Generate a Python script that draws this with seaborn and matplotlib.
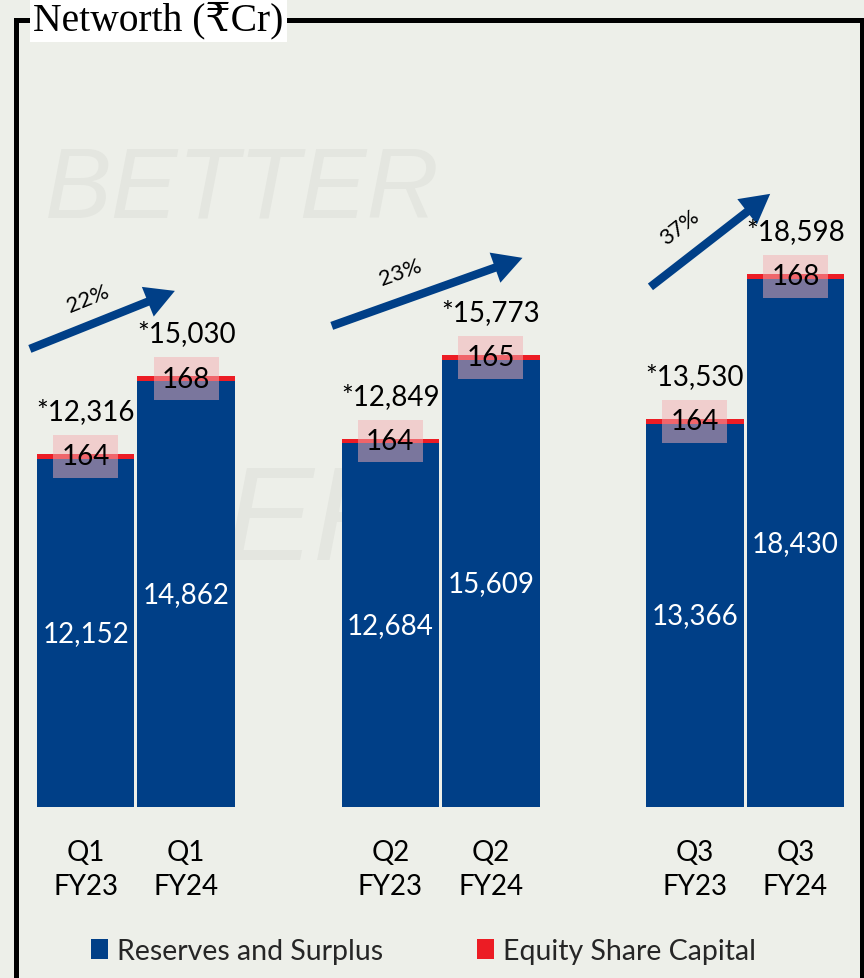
import matplotlib
matplotlib.use("Agg")
import matplotlib.pyplot as plt
import pandas as pd
import seaborn as sns
from matplotlib.patches import Patch, Rectangle

# ---------------- data ----------------
quarters = ["Q1", "Q2", "Q3"]
years = ["FY23", "FY24"]
reserves_fy23 = [12152, 12684, 13366]
reserves_fy24 = [14862, 15609, 18430]
equity_fy23 = [164, 164, 164]
equity_fy24 = [168, 165, 168]
networth_fy23 = [12316, 12849, 13530]
networth_fy24 = [15030, 15773, 18598]
growth_labels = ["22%", "23%", "37%"]
series_names = ["Reserves and Surplus", "Equity Share Capital"]
title = "Networth (₹Cr)"

# ---------------- styles ----------------
BG = "#EDEFE9"
BLUE = "#003F87"
RED = "#EC1C24"
WM = "#E4E6E0"
# arrow annotations (tail, tip) relative to group index, and growth label spots
arrow_geom = [((-0.348, 15980), (0.128, 18004)),
              ((-0.357, 16783), (0.269, 19156)),
              ((-0.311, 18144), (0.082, 21389))]
growth_pos = [(-0.157, 17750, 22), (-0.131, 18650, 20), (-0.215, 20250, 38)]

df = pd.DataFrame({
    "quarter": quarters * 2,
    "year": [years[0]] * 3 + [years[1]] * 3,
    "reserves": reserves_fy23 + reserves_fy24,
    "equity": equity_fy23 + equity_fy24,
    "networth": networth_fy23 + networth_fy24,
})
df["stack_top"] = df["reserves"] + df["equity"]

sns.set_theme(style="white")
plt.rcParams["font.family"] = ["Lato", "DejaVu Sans"]

W, H = 864, 979
fig = plt.figure(figsize=(W / 100, H / 100), dpi=100, facecolor=BG)

# faint watermark
fig.text(45 / W, 1 - 192 / H, "BETTER", fontsize=72, style="italic", color=WM,
         va="center", ha="left", zorder=-2, family=["Liberation Sans", "DejaVu Sans"])
fig.text(225 / W, 1 - 525 / H, "ER", fontsize=96, style="italic", color=WM,
         va="center", ha="left", zorder=-2, family=["Liberation Sans", "DejaVu Sans"])

ax = fig.add_axes([0, 171 / H, 1, 774 / H])
ax.set_facecolor("none")

sns.barplot(data=df, x="quarter", y="stack_top", hue="year", hue_order=years,
            order=quarters, palette=[RED, RED], width=0.66, gap=0.03,
            saturation=1, errorbar=None, linewidth=0, legend=False, ax=ax)
sns.barplot(data=df, x="quarter", y="reserves", hue="year", hue_order=years,
            order=quarters, palette=[BLUE, BLUE], width=0.66, gap=0.03,
            saturation=1, errorbar=None, linewidth=0, legend=False, ax=ax)

top_conts = ax.containers[:2]
res_conts = ax.containers[2:4]

centers, ticklabels = [], []
for yi, (tc, rc) in enumerate(zip(top_conts, res_conts)):
    eqs = equity_fy23 if yi == 0 else equity_fy24
    nws = networth_fy23 if yi == 0 else networth_fy24
    ress = reserves_fy23 if yi == 0 else reserves_fy24
    for qi, (tb, rb) in enumerate(zip(tc.patches, rc.patches)):
        x = tb.get_x() + tb.get_width() / 2
        centers.append(x)
        ticklabels.append(f"{quarters[qi]}\n{years[yi]}")
        # reserves label
        ax.text(x, rb.get_height() / 2, f"{ress[qi]:,}", color="white",
                fontsize=20, ha="center", va="center", zorder=5)
        # equity label with translucent pink box
        ax.text(x, rb.get_height() + (tb.get_height() - rb.get_height()) / 2,
                f"{eqs[qi]}", color="black", fontsize=20, ha="center", va="center",
                zorder=6,
                bbox=dict(boxstyle="square,pad=0.3", facecolor="#F4AEB3",
                          edgecolor="none", alpha=0.5))
        # total networth label
        ax.annotate(f"*{nws[qi]:,}", xy=(x, tb.get_height()), xytext=(0, 31),
                    textcoords="offset points", ha="center", va="center",
                    fontsize=20, color="black", zorder=6)

order = sorted(range(len(centers)), key=lambda i: centers[i])
ax.set_xticks([centers[i] for i in order])
ax.set_xticklabels([ticklabels[i] for i in order], fontsize=20, linespacing=1.4)
ax.tick_params(axis="x", length=0, pad=23, colors="black")
ax.set_yticks([])
ax.set_xlabel("")
ax.set_ylabel("")
ax.set_xlim(-0.446, 2.390)
ax.set_ylim(0, 27000)
sns.despine(ax=ax, left=True, bottom=True)

# growth arrows
for gi, ((tx, ty), (hx, hy)) in enumerate(arrow_geom):
    ax.annotate("", xy=(gi + hx, hy), xytext=(gi + tx, ty),
                arrowprops=dict(arrowstyle="simple,head_width=1.15,head_length=1.05,tail_width=0.3",
                                mutation_scale=20, color=BLUE, lw=0,
                                shrinkA=0, shrinkB=0), zorder=4)
    px, py, rot = growth_pos[gi]
    ax.text(gi + px, py, growth_labels[gi], fontsize=16, rotation=rot,
            rotation_mode="anchor", ha="center", va="center", color="black")

# frame
fig.add_artist(Rectangle((15.5 / W, -0.05), (861.5 - 15.5) / W, 1 - 20.5 / H + 0.05,
                         transform=fig.transFigure, fill=False, edgecolor="black",
                         linewidth=3.6, clip_on=False, zorder=3))
fig.text(33 / W, 1 - 21 / H, title, fontsize=28.5, ha="left", va="center",
         family=["Liberation Serif", "DejaVu Serif", "DejaVu Sans"], color="black",
         zorder=10,
         bbox=dict(boxstyle="square,pad=0.08", facecolor="white", edgecolor="none"))

# legend
handles = [Patch(facecolor=BLUE, edgecolor="none"), Patch(facecolor=RED, edgecolor="none")]
fig.legend(handles, series_names, loc="center", bbox_to_anchor=(0.49, 1 - 952 / H),
           ncol=2, frameon=False, fontsize=20.5, handlelength=0.6, handleheight=0.75,
           handletextpad=0.3, columnspacing=3.3)

fig.savefig("out.png", dpi=100, facecolor=BG)
